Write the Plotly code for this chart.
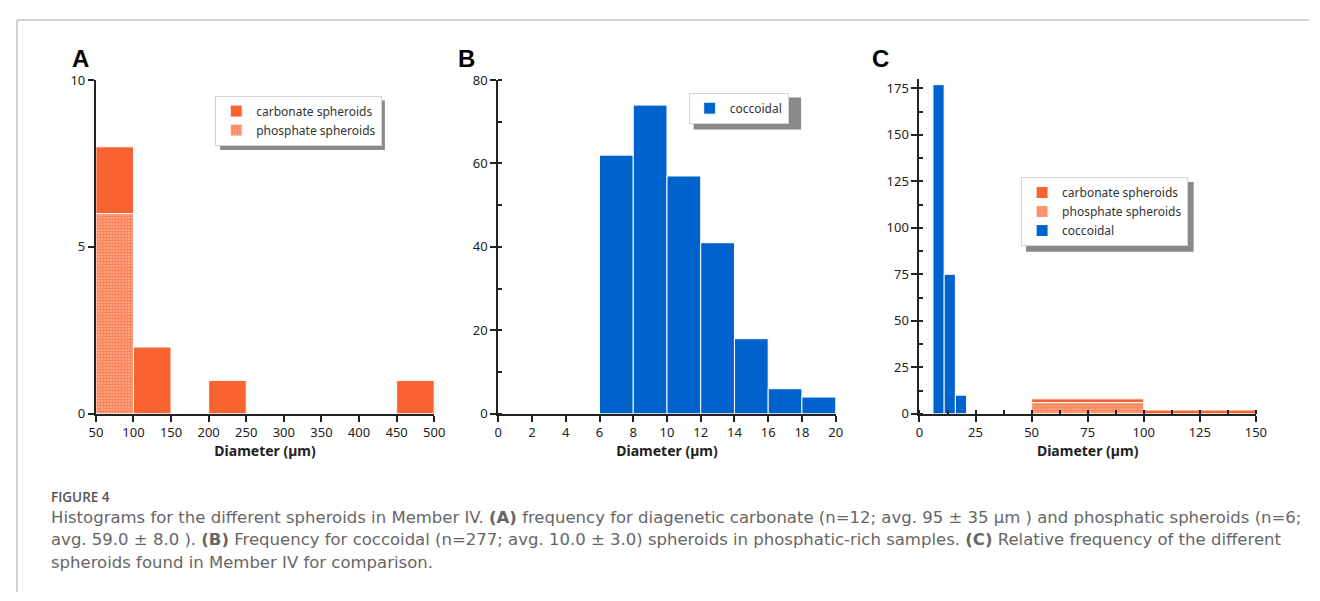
import plotly.graph_objects as go

W, H = 1320, 601

# ---- data ----
# panel A: diameter bins 50 um wide
a_carb_left = [50, 100, 200, 450]
a_carb_count = [8, 2, 1, 1]
a_phos_left = [50]
a_phos_count = [6]

# panel B: coccoidal, 2 um bins
b_cocc_left = [6, 8, 10, 12, 14, 16, 18]
b_cocc_count = [62, 74, 57, 41, 18, 6, 4]

# panel C: all spheroids together
c_cocc_left = [6, 11, 16]
c_cocc_count = [177, 75, 10]
c_carb_left = [50, 100]
c_carb_count = [8, 2]
c_phos_left = [50]
c_phos_count = [6]

ORANGE = "#F96332"
BLUE = "#0063CD"
FONT = "Noto Sans"

# the page puts the plot 8px in from the top-left corner
OFF = 8


def px_x(p):
    return (p - OFF) / W


def px_y(p):
    return 1 - (p - OFF) / H


phos_pattern = dict(shape="+", fgcolor=ORANGE, bgcolor="#FBA584", size=3, solidity=0.6)
white_edge = dict(color="white", width=1)

fig = go.Figure()

# A
fig.add_trace(go.Bar(x=a_carb_left, y=a_carb_count, width=50, offset=0, name="carbonate spheroids",
                     marker=dict(color=ORANGE, line=white_edge), xaxis="x", yaxis="y", legend="legend"))
fig.add_trace(go.Bar(x=a_phos_left, y=a_phos_count, width=50, offset=0, name="phosphate spheroids",
                     marker=dict(color="#FBA584", pattern=phos_pattern, line=white_edge),
                     xaxis="x", yaxis="y", legend="legend"))
# B
fig.add_trace(go.Bar(x=b_cocc_left, y=b_cocc_count, width=2, offset=0, name="coccoidal",
                     marker=dict(color=BLUE, line=white_edge), xaxis="x2", yaxis="y2", legend="legend2"))
# C
fig.add_trace(go.Bar(x=c_carb_left, y=c_carb_count, width=50, offset=0, name="carbonate spheroids",
                     marker=dict(color=ORANGE, line=white_edge), xaxis="x3", yaxis="y3", legend="legend3"))
fig.add_trace(go.Bar(x=c_phos_left, y=c_phos_count, width=50, offset=0, name="phosphate spheroids",
                     marker=dict(color="#FBA584", pattern=phos_pattern, line=white_edge),
                     xaxis="x3", yaxis="y3", legend="legend3"))
fig.add_trace(go.Bar(x=c_cocc_left, y=c_cocc_count, width=5, offset=0, name="coccoidal",
                     marker=dict(color=BLUE, line=white_edge), xaxis="x3", yaxis="y3", legend="legend3"))

axis_common = dict(showgrid=False, zeroline=False, showline=True, linecolor="#222", linewidth=2,
                   ticks="outside", ticklen=6, tickwidth=2, tickcolor="#222",
                   tickfont=dict(family=FONT, size=13, color="#222"))
xtitle = dict(text="<b>Diameter (µm)</b>", font=dict(family=FONT, size=14, color="#222"), standoff=4)

panels = [
    # suffix, x px span, y px span, x range, y range, x dtick, y dtick, minor x, minor y
    ("", (90, 433), (73, 417), [50, 500], [0, 10], 50, 5, None, None),
    ("2", (498, 840), (73, 417), [0, 20], [0, 80], 2, 20, None, 10),
    ("3", (925, 1266), (72, 417), [0, 150], [0, 180], 25, 25, 12.5, 12.5),
]

layout_axes = {}
for sfx, (x0, x1), (y0, y1), xr, yr, xd, yd, xminor, yminor in panels:
    xa = dict(axis_common, domain=[px_x(x0), px_x(x1)], range=xr, dtick=xd, tick0=xr[0],
              anchor="y" + sfx, title=xtitle)
    ya = dict(axis_common, domain=[px_y(y1), px_y(y0)], range=yr, dtick=yd, tick0=0,
              anchor="x" + sfx)
    if xminor:
        xa["minor"] = dict(dtick=xminor, ticks="inside", ticklen=4, tickcolor="#222", tickwidth=1.5)
    if yminor:
        ya["minor"] = dict(dtick=yminor, ticks="inside", ticklen=4, tickcolor="#222", tickwidth=1.5)
    layout_axes["xaxis" + sfx] = xa
    layout_axes["yaxis" + sfx] = ya

leg_common = dict(bgcolor="white", bordercolor="#d4d4d4", borderwidth=1, xanchor="left", yanchor="top",
                  font=dict(family=FONT, size=12, color="#333"), tracegroupgap=0, itemwidth=30)

# legend boxes (px): left, top, right, bottom
leg_boxes = {"legend": (211, 89, 378, 140), "legend2": (691, 86, 800, 119), "legend3": (1028, 173, 1198, 245)}

shapes = []
for name, (l, t, r, b) in leg_boxes.items():
    layout_axes[name] = dict(leg_common, x=px_x(l), y=px_y(t))
    shapes.append(dict(type="rect", xref="paper", yref="paper", layer="below",
                       x0=px_x(l + 5), x1=px_x(r + 5), y0=px_y(b + 5), y1=px_y(t + 5),
                       fillcolor="#8a8a8a", line=dict(width=0)))

# frame of the figure card
shapes.append(dict(type="line", xref="paper", yref="paper", x0=px_x(10), x1=px_x(1320),
                   y0=px_y(11), y1=px_y(11), line=dict(color="#c4c4c4", width=1.5)))
shapes.append(dict(type="line", xref="paper", yref="paper", x0=px_x(10), x1=px_x(10),
                   y0=px_y(601), y1=px_y(11), line=dict(color="#c4c4c4", width=1.5)))

annotations = []
for letter, xp in [("A", 74), ("B", 466), ("C", 885)]:
    annotations.append(dict(text="<b>" + letter + "</b>", x=px_x(xp), y=px_y(51), xref="paper", yref="paper",
                            showarrow=False, xanchor="center", yanchor="middle",
                            font=dict(family="Liberation Sans", size=24, color="#000")))

caption_lines = [
    "Histograms for the different spheroids in Member IV. <b>(A)</b> frequency for diagenetic carbonate "
    "(n=12; avg. 95 ± 35 µm ) and phosphatic spheroids (n=6;",
    "avg. 59.0 ± 8.0 ). <b>(B)</b> Frequency for coccoidal (n=277; avg. 10.0 ± 3.0) spheroids in "
    "phosphatic-rich samples. <b>(C)</b> Relative frequency of the different",
    "spheroids found in Member IV for comparison.",
]
annotations.append(dict(text="FIGURE 4", x=px_x(42), y=px_y(503), xref="paper", yref="paper",
                        showarrow=False, xanchor="left", yanchor="middle",
                        font=dict(family="Open Sans", size=13.5, color="#555", weight=600)))
for i, line in enumerate(caption_lines):
    annotations.append(dict(text=line, x=px_x(42), y=px_y(524 + 23 * i), xref="paper", yref="paper",
                            showarrow=False, xanchor="left", yanchor="middle",
                            font=dict(family="DejaVu Sans", size=16.5, color="#666")))

fig.update_layout(
    width=W, height=H, margin=dict(l=0, r=0, t=0, b=0),
    paper_bgcolor="white", plot_bgcolor="rgba(0,0,0,0)",
    barmode="overlay", showlegend=True,
    shapes=shapes, annotations=annotations,
    **layout_axes,
)

fig.write_html("out.html")
